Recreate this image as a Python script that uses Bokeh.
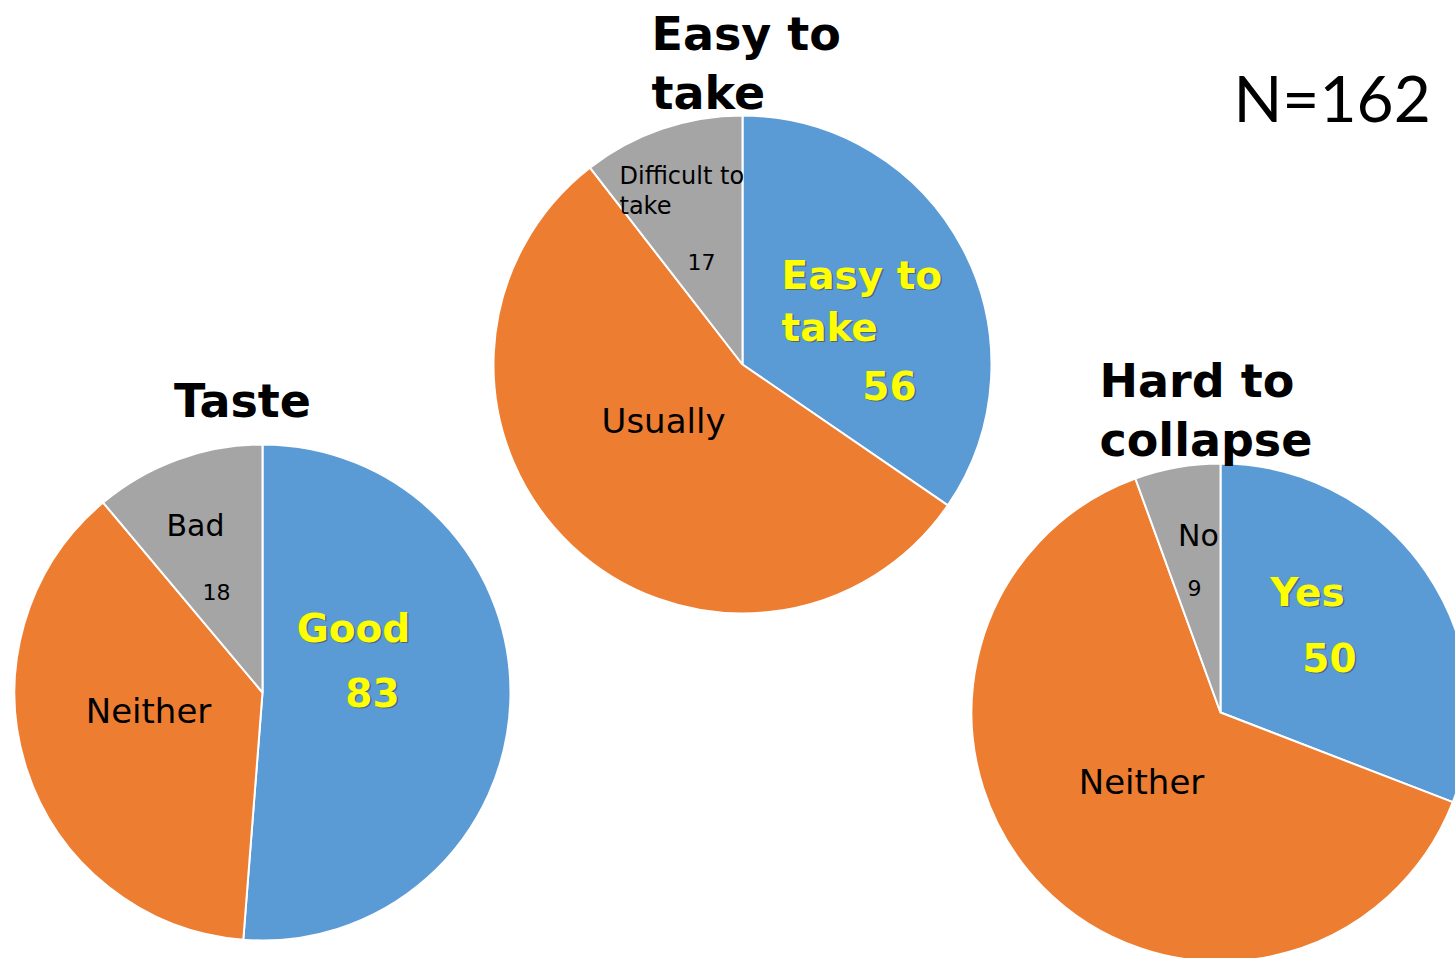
import math
from bokeh.plotting import figure
from bokeh.models import Range1d
from bokeh.core.properties import value
from bokeh.embed import file_html
from bokeh.resources import INLINE

# ---------------- data ----------------
total_n = 162
chart_titles = ["Taste", "Easy to take", "Hard to collapse"]
taste_categories = ["Good", "Neither", "Bad"]
taste_values = [83, 61, 18]
ease_categories = ["Easy to take", "Usually", "Difficult to take"]
ease_values = [56, 89, 17]
collapse_categories = ["Yes", "Neither", "No"]
collapse_values = [50, 103, 9]

# ---------------- styles / layout ----------------
slice_colors = ["#5B9BD5", "#ED7D31", "#A5A5A5"]
W, H = 1455, 958
FONT = "DejaVu Sans"
BASE_FIX = 0.39  # baseline correction (fraction of font size)

p = figure(width=W, height=H, output_backend="svg", toolbar_location=None,
           x_range=Range1d(0, W), y_range=Range1d(0, H),
           min_border=0)
p.axis.visible = False
p.grid.visible = False
p.outline_line_color = None
p.background_fill_color = "white"
p.border_fill_color = "white"


def sy(y):
    return H - y


def split2(s):
    parts = s.split(" ")
    if len(parts) >= 3:
        return s.rsplit(" ", 1)
    return [s]


def txt(x, y, s, size, bold=False, color="black", align="left", font=FONT, shadow=False):
    style = "bold" if bold else "normal"
    yy = sy(y - BASE_FIX * size)
    if shadow:
        p.text(x=[x + 1.5], y=[yy - 1.5], text=[s], text_color="#3a3a3a", text_alpha=0.55,
               text_font=value(font), text_font_size=f"{size}px", text_font_style=style,
               text_align=align, text_baseline="alphabetic")
    p.text(x=[x], y=[yy], text=[s], text_color=color,
           text_font=value(font), text_font_size=f"{size}px", text_font_style=style,
           text_align=align, text_baseline="alphabetic")


pies = [
    dict(title=chart_titles[0], cats=taste_categories, vals=taste_values,
         center=(262, 692), r=248,
         title_pos=[(242, 418, "center")],
         main_pos=[(353, 643)], main_val=(372, 707),
         mid_pos=(148, 724),
         minor_pos=[(195, 537, "center")], minor_val=(216, 600)),
    dict(title=chart_titles[1], cats=ease_categories, vals=ease_values,
         center=(742, 364), r=249,
         title_pos=[(651, 51, "left"), (651, 110, "left")],
         main_pos=[(781, 290), (781, 342)], main_align="left", main_val=(889, 400),
         mid_pos=(663, 434),
         minor_pos=[(619, 185, "left"), (619, 215, "left")], minor_val=(701, 270)),
    dict(title=chart_titles[2], cats=collapse_categories, vals=collapse_values,
         center=(1220, 712), r=249,
         title_pos=[(1099, 398, "left"), (1099, 457, "left")],
         main_pos=[(1307, 607)], main_val=(1329, 672),
         mid_pos=(1141, 795),
         minor_pos=[(1198, 547, "center")], minor_val=(1194, 596)),
]

for pie in pies:
    cx, cy = pie["center"]
    vals = pie["vals"]
    tot = sum(vals)
    starts, ends = [], []
    cum = 0.0
    for v in vals:
        a0 = cum / tot * 2 * math.pi
        cum += v
        a1 = cum / tot * 2 * math.pi
        # clockwise from 12 o'clock
        starts.append(math.pi / 2 - a1)
        ends.append(math.pi / 2 - a0)
    p.wedge(x=[cx] * 3, y=[sy(cy)] * 3, radius=pie["r"], start_angle=starts, end_angle=ends,
            fill_color=slice_colors, line_color="white", line_width=2)

    # title
    tlines = split2(pie["title"])
    for line, (x, y, al) in zip(tlines, pie["title_pos"]):
        txt(x, y, line, 46, bold=True, align=al)

    # main (blue) slice label
    mlines = split2(pie["cats"][0])
    mal = pie.get("main_align", "center")
    for line, (x, y) in zip(mlines, pie["main_pos"]):
        txt(x, y, line, 39, bold=True, color="#FFFF00", align=mal, shadow=True)
    txt(pie["main_val"][0], pie["main_val"][1], str(vals[0]), 39, bold=True,
        color="#FFFF00", align="center", shadow=True)

    # middle (orange) slice label
    txt(pie["mid_pos"][0], pie["mid_pos"][1], pie["cats"][1], 34, align="center")

    # minor (grey) slice label
    nlines = split2(pie["cats"][2])
    msize = 24 if len(nlines) > 1 else 30
    for line, (x, y, al) in zip(nlines, pie["minor_pos"]):
        txt(x, y, line, msize, align=al)
    txt(pie["minor_val"][0], pie["minor_val"][1], str(vals[2]), 22, align="center")

txt(1233, 122, f"N={total_n}", 64, font="Lato")

open("out.html", "w").write(file_html(p, INLINE))
